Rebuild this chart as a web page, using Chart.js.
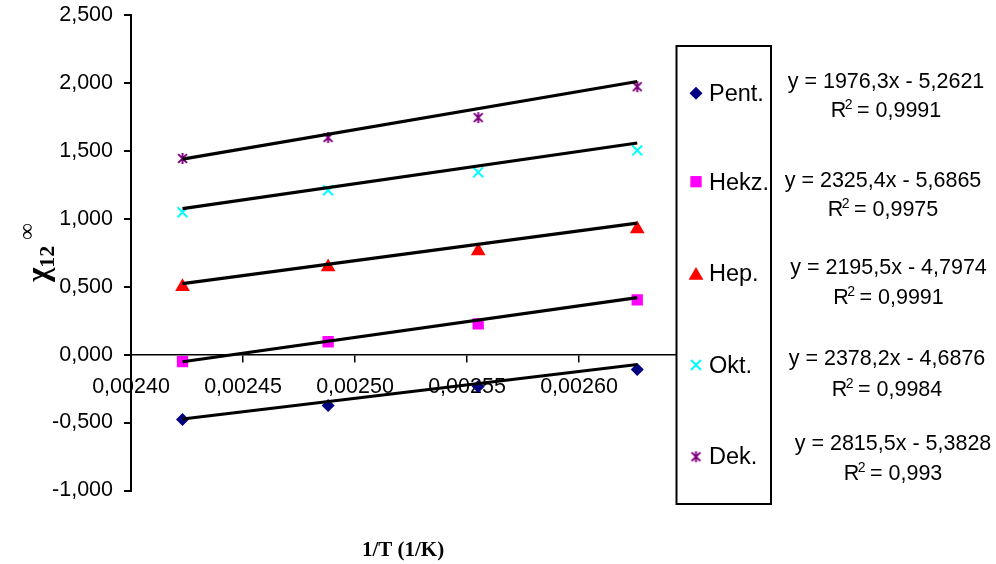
<!DOCTYPE html>
<html>
<head>
<meta charset="utf-8">
<script src="https://cdn.jsdelivr.net/npm/chart.js@4/dist/chart.umd.min.js"></script>
<style>
  html, body { margin: 0; padding: 0; background: #fff; }
  #wrap { width: 996px; height: 564px; }
</style>
</head>
<body>
<div id="wrap"><canvas id="c" width="996" height="564"></canvas></div>
<script>
// 1/T values (1/K) for the four measured temperatures
const invT = [0.002423, 0.002488, 0.002555, 0.002626];

// chi12(inf) values for each solute
const seriesNames = ['Pent.', 'Hekz.', 'Hep.', 'Okt.', 'Dek.'];
const pent = [-0.477, -0.374, -0.235, -0.110];
const hekz = [-0.051, 0.095, 0.227, 0.403];
const hep  = [0.499, 0.645, 0.762, 0.924];
const okt  = [1.048, 1.210, 1.342, 1.503];
const dek  = [1.444, 1.598, 1.745, 1.972];

// Linear fits y = a*x + b and their R^2
const slopes     = [1976.3, 2325.4, 2195.5, 2378.2, 2815.5];
const intercepts = [-5.2621, -5.6865, -4.7974, -4.6876, -5.3828];
const rSquared   = [0.9991, 0.9975, 0.9991, 0.9984, 0.993];

// Axis ticks
const yTicks = { min: -1, max: 2.5, step: 0.5 };
const xTicks = { min: 0.0024, max: 0.00265, step: 0.00005 };

const FONT = '"Liberation Sans", Arial, sans-serif';
const SERIF = '"Liberation Serif", "Times New Roman", serif';
const comma = s => s.replace('.', ',');

// Asterisk-like marker: an X with a vertical stroke
function starMarker(color, size) {
  const c = document.createElement('canvas');
  c.width = size; c.height = size;
  const g = c.getContext('2d');
  g.strokeStyle = color; g.lineWidth = 2;
  const m = size / 2, r = size / 2 - 1;
  g.beginPath();
  g.moveTo(m - r * 0.8, m - r * 0.8); g.lineTo(m + r * 0.8, m + r * 0.8);
  g.moveTo(m + r * 0.8, m - r * 0.8); g.lineTo(m - r * 0.8, m + r * 0.8);
  g.moveTo(m, m - r); g.lineTo(m, m + r);
  g.stroke();
  return c;
}

const styles = [
  { color: '#000080', pointStyle: 'rectRot', radius: 6.5, borderWidth: 0 },
  { color: '#FF00FF', pointStyle: 'rect', radius: 8, borderWidth: 0 },
  { color: '#FF0000', pointStyle: 'triangle', radius: 8.5, borderWidth: 0 },
  { color: '#00FFFF', pointStyle: 'crossRot', radius: 7, borderWidth: 2 },
  { color: '#800080', pointStyle: starMarker('#800080', 13), radius: 6.5, borderWidth: 2 }
];

const values = [pent, hekz, hep, okt, dek];

const datasets = [];
// fitted lines from the regression equations, spanning the measured range
values.forEach((v, i) => {
  const x0 = invT[0], x1 = invT[invT.length - 1];
  datasets.push({
    label: seriesNames[i] + ' fit',
    data: [{ x: x0, y: slopes[i] * x0 + intercepts[i] }, { x: x1, y: slopes[i] * x1 + intercepts[i] }],
    showLine: true,
    borderColor: '#000',
    borderWidth: 3.2,
    pointRadius: 0,
    order: 0
  });
});
// measured points
values.forEach((v, i) => {
  const s = styles[i];
  datasets.push({
    label: seriesNames[i],
    data: invT.map((x, k) => ({ x, y: v[k] })),
    showLine: false,
    pointStyle: s.pointStyle,
    pointRadius: s.radius,
    pointBackgroundColor: s.color,
    pointBorderColor: s.color,
    pointBorderWidth: s.borderWidth,
    order: 1
  });
});

// Legend box, regression labels and axis titles
const annotations = {
  id: 'annotations',
  afterDatasetsDraw(chart) {
    const ctx = chart.ctx;
    ctx.save();

    // legend frame
    const box = { x: 676.5, y: 46, w: 94.5, h: 458 };
    ctx.fillStyle = '#fff';
    ctx.fillRect(box.x, box.y, box.w, box.h);
    ctx.strokeStyle = '#000';
    ctx.lineWidth = 2;
    ctx.strokeRect(box.x, box.y, box.w, box.h);

    const markerY = [93.3, 181.7, 275.5, 365, 456.7];
    const textBase = [100.7, 190, 281.2, 372.5, 464];
    ctx.font = '23.5px ' + FONT;
    ctx.textAlign = 'left';
    ctx.textBaseline = 'alphabetic';
    styles.forEach((s, i) => {
      ctx.fillStyle = s.color;
      ctx.strokeStyle = s.color;
      ctx.lineWidth = s.borderWidth || 1;
      Chart.helpers.drawPoint(ctx, {
        pointStyle: s.pointStyle, radius: s.radius, rotation: 0, borderWidth: s.borderWidth
      }, 696, markerY[i]);
      ctx.fillStyle = '#000';
      ctx.fillText(seriesNames[i], 709, textBase[i]);
    });

    // regression equations
    const eqCenter = [886, 883, 888.5, 887, 893];
    const eqBase = [88.3, 186.7, 274.3, 365, 450];
    const r2Base = [116.7, 215.7, 304, 395.7, 480];
    const eqFont = '21.5px ' + FONT;
    slopes.forEach((a, i) => {
      const b = intercepts[i];
      const sign = b < 0 ? ' - ' : ' + ';
      const eq = 'y = ' + comma(a.toFixed(1)) + 'x' + sign + comma(Math.abs(b).toFixed(4));
      ctx.font = eqFont;
      ctx.textAlign = 'center';
      ctx.fillStyle = '#000';
      ctx.fillText(eq, eqCenter[i], eqBase[i]);

      // R² with raised 2
      const tail = ' = ' + comma(String(rSquared[i]));
      ctx.font = eqFont;
      const wR = ctx.measureText('R').width;
      const wT = ctx.measureText(tail).width;
      ctx.font = '14px ' + FONT;
      const w2 = ctx.measureText('2').width;
      const total = wR + w2 - 3 + wT;
      let x = eqCenter[i] - total / 2;
      ctx.textAlign = 'left';
      ctx.font = eqFont;
      ctx.fillText('R', x, r2Base[i]);
      x += wR - 1.5;
      ctx.font = '14px ' + FONT;
      ctx.fillText('2', x, r2Base[i] - 8);
      x += w2 - 1.5;
      ctx.font = eqFont;
      ctx.fillText(tail, x, r2Base[i]);
    });

    // x axis title
    ctx.font = 'bold 21px ' + SERIF;
    ctx.textAlign = 'center';
    ctx.fillStyle = '#000';
    ctx.fillText('1/T (1/K)', 403, 556);

    // y axis title: chi_12 with infinity superscript, rotated
    ctx.translate(48, 282);
    ctx.rotate(-Math.PI / 2);
    ctx.textAlign = 'left';
    ctx.font = 'bold 31px ' + SERIF;
    const wChi = ctx.measureText('χ').width;
    ctx.fillText('χ', 0, 0);
    ctx.font = 'bold 22px ' + SERIF;
    ctx.fillText('12', wChi, 6);
    const w12 = ctx.measureText('12').width;
    ctx.font = 'bold 23px ' + SERIF;
    ctx.fillText('∞', wChi + w12 + 6, -14);

    ctx.restore();
  }
};

new Chart(document.getElementById('c'), {
  type: 'scatter',
  data: { datasets },
  options: {
    responsive: false,
    animation: false,
    devicePixelRatio: 1,
    events: [],
    layout: { padding: { left: 0, top: 15, right: 305, bottom: 73.5 } },
    plugins: { legend: { display: false }, tooltip: { enabled: false } },
    scales: {
      x: {
        type: 'linear',
        position: { y: 0 },
        min: xTicks.min,
        max: xTicks.max,
        afterBuildTicks: s => {
          const t = [];
          for (let v = xTicks.min; v <= xTicks.max + 1e-9; v += xTicks.step) t.push({ value: +v.toFixed(6) });
          s.ticks = t;
        },
        afterFit: s => { s.paddingLeft = 0; s.paddingRight = 0; },
        ticks: {
          autoSkip: false,
          maxRotation: 0,
          color: '#000',
          font: { family: FONT, size: 21.5 },
          padding: 13,
          callback: v => (v >= xTicks.max - 1e-9 ? '' : comma(Number(v).toFixed(5)))
        },
        grid: { drawOnChartArea: false, drawTicks: true, tickLength: 7, color: '#000', lineWidth: 1.5 },
        border: { display: true, color: '#000', width: 1.5 }
      },
      y: {
        type: 'linear',
        min: yTicks.min,
        max: yTicks.max,
        afterFit: s => { s.width = 131; s.paddingTop = 0; s.paddingBottom = 0; },
        afterBuildTicks: s => {
          const t = [];
          for (let v = yTicks.min; v <= yTicks.max + 1e-9; v += yTicks.step) t.push({ value: +v.toFixed(3) });
          s.ticks = t;
        },
        ticks: {
          color: '#000',
          font: { family: FONT, size: 21.5 },
          padding: 11,
          callback: v => comma(Number(v).toFixed(3))
        },
        grid: { drawOnChartArea: false, drawTicks: true, tickLength: 7, color: '#000', lineWidth: 2 },
        border: { display: true, color: '#000', width: 2 }
      }
    }
  },
  plugins: [annotations]
});
</script>
</body>
</html>
